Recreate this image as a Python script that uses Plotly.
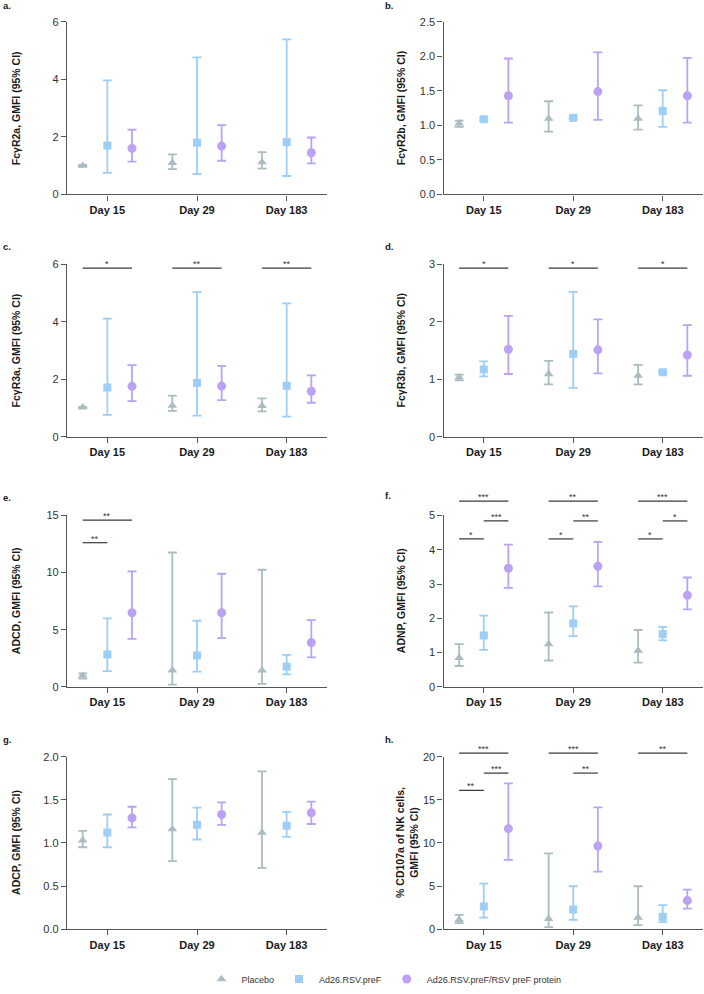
import plotly.graph_objects as go

# ---------------- data ----------------
categories = ["Day 15", "Day 29", "Day 183"]
groups = ["Placebo", "Ad26.RSV.preF", "Ad26.RSV.preF/RSV preF protein"]

panel_letters = ["a.", "b.", "c.", "d.", "e.", "f.", "g.", "h."]
y_titles = [
    "FcγR2a, GMFI (95% CI)",
    "FcγR2b, GMFI (95% CI)",
    "FcγR3a, GMFI (95% CI)",
    "FcγR3b, GMFI (95% CI)",
    "ADCD, GMFI (95% CI)",
    "ADNP, GMFI (95% CI)",
    "ADCP, GMFI (95% CI)",
    "% CD107a of NK cells,<br>GMFI (95% CI)",
]
y_max = [6, 2.5, 6, 3, 15, 5, 2.0, 20]
y_dtick = [2, 0.5, 2, 1, 5, 1, 0.5, 5]
y_fmt = ["d", ".1f", "d", "d", "d", "d", ".1f", "d"]

# rows: Placebo, Ad26.RSV.preF, Ad26.RSV.preF/RSV preF protein ; cols: Day 15, 29, 183
a_mean = [[1.00, 1.10, 1.12], [1.70, 1.80, 1.82], [1.60, 1.68, 1.45]]
a_lo = [[0.98, 0.88, 0.90], [0.75, 0.71, 0.64], [1.14, 1.17, 1.08]]
a_hi = [[1.03, 1.39, 1.47], [3.97, 4.77, 5.39], [2.25, 2.41, 1.98]]

b_mean = [[1.03, 1.10, 1.10], [1.09, 1.11, 1.21], [1.43, 1.49, 1.43]]
b_lo = [[0.98, 0.91, 0.94], [1.07, 1.09, 0.98], [1.04, 1.08, 1.04]]
b_hi = [[1.07, 1.35, 1.29], [1.11, 1.13, 1.51], [1.97, 2.06, 1.98]]

c_mean = [[1.02, 1.08, 1.07], [1.71, 1.87, 1.77], [1.75, 1.76, 1.58]]
c_lo = [[1.00, 0.90, 0.88], [0.76, 0.73, 0.70], [1.24, 1.27, 1.18]]
c_hi = [[1.04, 1.43, 1.33], [4.11, 5.03, 4.64], [2.49, 2.46, 2.13]]

d_mean = [[1.03, 1.09, 1.06], [1.17, 1.44, 1.12], [1.52, 1.51, 1.42]]
d_lo = [[0.98, 0.91, 0.91], [1.05, 0.85, 1.10], [1.09, 1.10, 1.06]]
d_hi = [[1.08, 1.32, 1.25], [1.31, 2.52, 1.14], [2.10, 2.04, 1.94]]

e_mean = [[1.00, 1.45, 1.45], [2.84, 2.75, 1.77], [6.49, 6.49, 3.88]]
e_lo = [[0.72, 0.20, 0.26], [1.39, 1.33, 1.10], [4.20, 4.26, 2.58]]
e_hi = [[1.19, 11.76, 10.25], [6.00, 5.79, 2.81], [10.10, 9.90, 5.85]]

f_mean = [[0.85, 1.25, 1.06], [1.50, 1.85, 1.54], [3.46, 3.52, 2.67]]
f_lo = [[0.61, 0.77, 0.71], [1.08, 1.48, 1.36], [2.89, 2.93, 2.26]]
f_hi = [[1.25, 2.17, 1.66], [2.08, 2.35, 1.75], [4.15, 4.23, 3.19]]

g_mean = [[1.03, 1.16, 1.12], [1.12, 1.21, 1.20], [1.29, 1.33, 1.35]]
g_lo = [[0.95, 0.79, 0.71], [0.95, 1.04, 1.07], [1.18, 1.21, 1.22]]
g_hi = [[1.14, 1.74, 1.83], [1.33, 1.41, 1.36], [1.42, 1.47, 1.48]]

h_mean = [[1.08, 1.20, 1.35], [2.63, 2.28, 1.43], [11.66, 9.65, 3.32]]
h_lo = [[0.70, 0.23, 0.46], [1.35, 1.08, 0.81], [8.03, 6.68, 2.39]]
h_hi = [[1.66, 8.80, 4.98], [5.29, 4.98, 2.78], [16.90, 14.13, 4.59]]

# significance brackets: (day index, group from, group to, tier, label)
c_sig = [(0, 0, 2, 0, "*"), (1, 0, 2, 0, "**"), (2, 0, 2, 0, "**")]
d_sig = [(0, 0, 2, 0, "*"), (1, 0, 2, 0, "*"), (2, 0, 2, 0, "*")]
e_sig = [(0, 0, 2, 0, "**"), (0, 0, 1, 1, "**")]
f_sig = [(0, 0, 2, 0, "***"), (0, 1, 2, 1, "***"), (0, 0, 1, 2, "*"),
         (1, 0, 2, 0, "**"), (1, 1, 2, 1, "**"), (1, 0, 1, 2, "*"),
         (2, 0, 2, 0, "***"), (2, 1, 2, 1, "*"), (2, 0, 1, 2, "*")]
h_sig = [(0, 0, 2, 0, "***"), (0, 1, 2, 1, "***"), (0, 0, 1, 2, "**"),
         (1, 0, 2, 0, "***"), (1, 1, 2, 1, "**"),
         (2, 0, 2, 0, "**")]

# ---------------- style ----------------
colors = ["#AABCC0", "#9CCEF6", "#BBA2F2"]
symbols = ["triangle-up", "square", "circle"]
msizes = [8.5, 8, 9]
offsets = [-0.275, 0.0, 0.275]

W, H = 704, 994
FONT = "Arial, 'Liberation Sans', sans-serif"
AXC = "#555555"

col_px = [(67, 327), (443.5, 703)]
row_px = [(22, 195), (265, 438), (517, 689), (759, 932)]
title_x_px = [16, 401]
letter_pos = [(1, 6), (383, 6), (1, 247), (383, 247), (1, 499), (383, 497), (1, 742), (383, 742)]
tier_levels = {2: [0.977], 3: [0.977], 4: [0.973, 0.841], 5: [1.084, 0.968, 0.863], 7: [1.021, 0.905, 0.805]}

panels = [
    (a_mean, a_lo, a_hi, []),
    (b_mean, b_lo, b_hi, []),
    (c_mean, c_lo, c_hi, c_sig),
    (d_mean, d_lo, d_hi, d_sig),
    (e_mean, e_lo, e_hi, e_sig),
    (f_mean, f_lo, f_hi, f_sig),
    (g_mean, g_lo, g_hi, []),
    (h_mean, h_lo, h_hi, h_sig),
]

fig = go.Figure()
layout = {}
shapes = []
annotations = []

for i, (mean, lo, hi, sig) in enumerate(panels):
    n = i + 1
    col, row = i % 2, i // 2
    xs = "" if n == 1 else str(n)
    xid, yid = "x" + xs, "y" + xs
    x0p, x1p = col_px[col]
    y0p, y1p = row_px[row]

    layout["xaxis" + xs] = dict(
        domain=[x0p / W, x1p / W], anchor=yid, range=[-0.45, 2.45],
        tickvals=list(range(len(categories))),
        ticktext=["<b>%s</b>" % c for c in categories],
        tickfont=dict(family=FONT, size=11, color="#1a1a1a"),
        showline=True, linecolor=AXC, linewidth=1.3,
        ticks="outside", ticklen=5, tickwidth=1.2, tickcolor=AXC,
        showgrid=False, zeroline=False, automargin=False, fixedrange=True,
    )
    layout["yaxis" + xs] = dict(
        domain=[1 - y1p / H, 1 - y0p / H], anchor=xid, range=[0, y_max[i]],
        dtick=y_dtick[i], tick0=0, tickformat=y_fmt[i],
        tickfont=dict(family=FONT, size=11, color="#333333"),
        showline=True, linecolor=AXC, linewidth=1.3,
        ticks="outside", ticklen=5, tickwidth=1.2, tickcolor=AXC,
        showgrid=False, zeroline=False, automargin=False, fixedrange=True,
    )

    for g in range(3):
        m = mean[g]
        fig.add_trace(go.Scatter(
            x=[d + offsets[g] for d in range(len(categories))],
            y=m,
            mode="markers",
            name=groups[g],
            legendgroup=groups[g],
            showlegend=(i == 0),
            xaxis=xid, yaxis=yid,
            cliponaxis=False,
            marker=dict(symbol=symbols[g], size=msizes[g], color=colors[g], line=dict(width=0)),
            error_y=dict(
                type="data", symmetric=False,
                array=[h_ - v for h_, v in zip(hi[g], m)],
                arrayminus=[v - l_ for l_, v in zip(lo[g], m)],
                color=colors[g], thickness=1.8, width=4.5,
            ),
            hoverinfo="skip",
        ))

    # significance brackets
    for (day, ga, gb, tier, label) in sig:
        lvl = tier_levels[i][tier]
        xa, xb = day + offsets[ga], day + offsets[gb]
        shapes.append(dict(type="line", xref=xid, yref=yid + " domain",
                           x0=xa, x1=xb, y0=lvl, y1=lvl,
                           line=dict(color="#3a3a3a", width=1.2)))
        annotations.append(dict(text=label, xref=xid, yref=yid + " domain",
                                x=(xa + xb) / 2, y=lvl, xanchor="center", yanchor="bottom",
                                yshift=-3, showarrow=False,
                                font=dict(family=FONT, size=9, color="#333333")))

    # y-axis title
    tx = 407 if i == 7 else title_x_px[col]
    annotations.append(dict(text="<b>%s</b>" % y_titles[i], xref="paper", yref=yid + " domain",
                            x=tx / W, y=0.5, xanchor="center", yanchor="middle",
                            textangle=-90, showarrow=False,
                            font=dict(family=FONT, size=10.5, color="#1a1a1a")))
    # panel letter
    lx, ly = letter_pos[i]
    annotations.append(dict(text="<b>%s</b>" % panel_letters[i], xref="paper", yref="paper",
                            x=lx / W, y=1 - ly / H, xanchor="left", yanchor="middle",
                            showarrow=False,
                            font=dict(family=FONT, size=9.5, color="#1a1a1a")))

fig.update_layout(
    width=W, height=H, autosize=False,
    margin=dict(l=0, r=0, t=0, b=0),
    paper_bgcolor="white", plot_bgcolor="white",
    font=dict(family=FONT, color="#333333"),
    showlegend=True,
    legend=dict(orientation="h", x=384 / W, xanchor="center", y=1 - 982 / H, yanchor="middle",
                font=dict(family=FONT, size=9, color="#333333"),
                itemwidth=30, tracegroupgap=0, bgcolor="rgba(0,0,0,0)"),
    shapes=shapes,
    annotations=annotations,
    **layout,
)

fig.write_html(
    "out.html",
    config={"displayModeBar": False},
    post_script="document.body.style.margin='0';document.body.style.padding='0';",
)
